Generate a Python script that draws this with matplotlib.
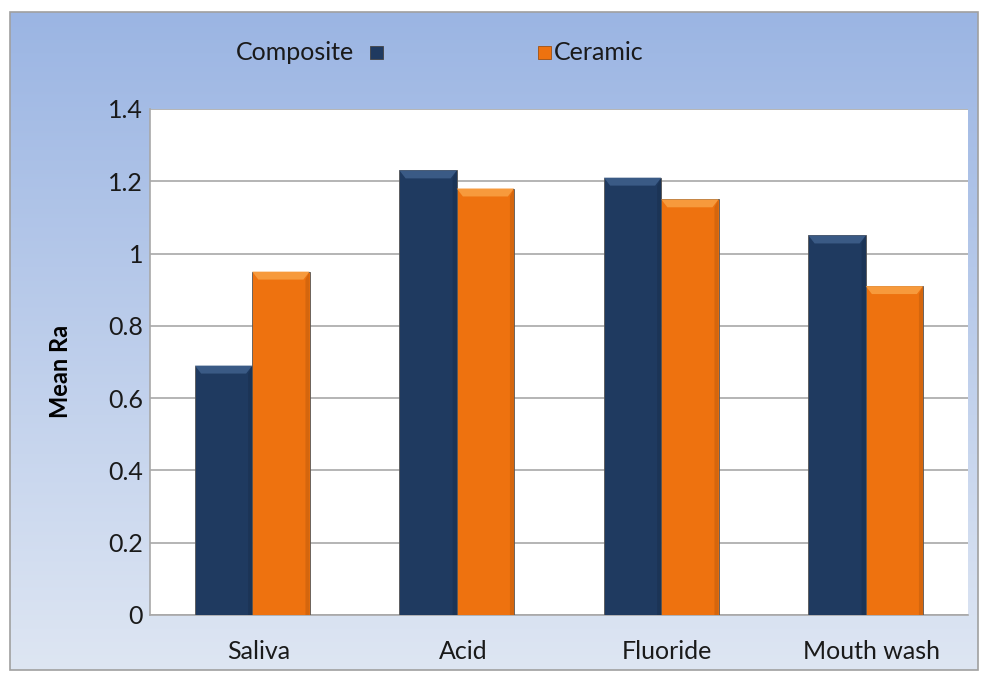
import numpy as np
import matplotlib
matplotlib.use('Agg')
import matplotlib.pyplot as plt
from matplotlib.patches import Rectangle

plt.rcParams['font.family'] = ['Lato', 'DejaVu Sans']

categories = ['Saliva', 'Acid', 'Fluoride', 'Mouth wash']
composite = [0.69, 1.23, 1.21, 1.05]
ceramic = [0.95, 1.18, 1.15, 0.91]
yticks = [0, 0.2, 0.4, 0.6, 0.8, 1, 1.2, 1.4]
ytick_labels = ['0', '0.2', '0.4', '0.6', '0.8', '1', '1.2', '1.4']

W, H = 990, 682
fig = plt.figure(figsize=(W / 100, H / 100), dpi=100)
fig.patch.set_facecolor('white')

# gradient panel behind the chart
bg = fig.add_axes([0, 0, 1, 1], zorder=0)
bg.set_xlim(0, W)
bg.set_ylim(H, 0)
bg.axis('off')
grad = np.linspace(0, 1, 256)[:, None]
top = np.array([155, 181, 227]) / 255
bot = np.array([222, 230, 243]) / 255
img = top[None, None, :] * (1 - grad[..., None]) + bot[None, None, :] * grad[..., None]
bg.imshow(img, extent=[10, 978, 670, 12], aspect='auto', zorder=0)
bg.add_patch(Rectangle((10, 12), 968, 658, fill=False, edgecolor='#a0a0a0', lw=1.2, zorder=1))

ax = fig.add_axes([150 / W, 1 - 615 / H, 818 / W, 506 / H], zorder=1)
ax.set_facecolor('white')

x = np.arange(len(categories))
width = 0.28
c_comp = '#1f3a60'
c_cer = '#ee720f'
for vals, off, col, hi in [(composite, -width / 2, c_comp, '#3a5a85'),
                           (ceramic, width / 2, c_cer, '#f79a3c')]:
    ax.bar(x + off, vals, width, color=col, edgecolor='#555555', linewidth=0.6, zorder=3)
    # bevel highlight along the top of each bar
    for xi, v in zip(x + off, vals):
        ax.fill([xi - width / 2, xi + width / 2, xi + width / 2 - 0.03, xi - width / 2 + 0.03],
                [v, v, v - 0.022, v - 0.022], color=hi, zorder=4, lw=0)
        ax.fill([xi + width / 2 - 0.02, xi + width / 2, xi + width / 2, xi + width / 2 - 0.02],
                [v - 0.022, v, 0, 0], color='black', alpha=0.1, zorder=4, lw=0)

ax.set_xlim(-0.5, len(categories) - 0.5)
ax.set_ylim(0, 1.4)
ax.set_yticks(yticks)
ax.set_yticklabels(ytick_labels, fontsize=18, color='#1a1a1a')
ax.set_xticks(x + 0.03)
ax.set_xticklabels(categories, fontsize=18, color='#1a1a1a')
ax.tick_params(axis='x', length=0, pad=18)
ax.tick_params(axis='y', length=0, pad=5)
ax.yaxis.grid(True, color='#a8a8a8', lw=1.2, zorder=0)
ax.set_axisbelow(True)
for s in ['top', 'right']:
    ax.spines[s].set_visible(False)
ax.spines['left'].set_color('#a8a8a8')
ax.spines['bottom'].set_color('#a8a8a8')
ax.spines['left'].set_linewidth(1.2)
ax.spines['bottom'].set_linewidth(1.2)
ax.set_ylabel('Mean Ra', fontsize=17, fontweight='bold')
ax.yaxis.set_label_coords((72 - 150) / 818, (615 - 371) / 506)

# legend in the header band
bg.text(236, 52, 'Composite', fontsize=18, va='center', ha='left', color='#1a1a1a', zorder=3)
bg.add_patch(Rectangle((370, 46), 13, 13, facecolor=c_comp, edgecolor='#444444', lw=0.6, zorder=3))
bg.add_patch(Rectangle((538, 46), 13, 13, facecolor=c_cer, edgecolor='#a05010', lw=0.6, zorder=3))
bg.text(554, 52, 'Ceramic', fontsize=18, va='center', ha='left', color='#1a1a1a', zorder=3)

fig.savefig('out.png', dpi=100)
